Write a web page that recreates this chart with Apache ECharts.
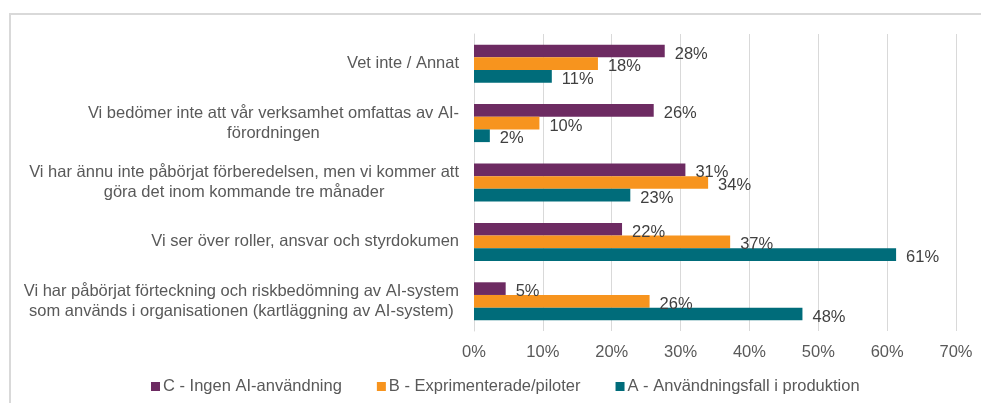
<!DOCTYPE html>
<html lang="sv">
<head>
    <meta charset="UTF-8">
    <title>AI-förordningen</title>
    <script src="https://cdn.jsdelivr.net/npm/echarts@6/dist/echarts.min.js"></script>
    <style>
        html, body { margin: 0; padding: 0; background: #fff; }
        #chart { width: 981px; height: 403px; }
    </style>
</head>
<body>
    <div id="chart"></div>
    <script>
        // categories listed bottom -> top (category axis starts at the bottom)
        var categories = [
            'Vi har påbörjat förteckning och riskbedömning av AI-system\nsom används i organisationen (kartläggning av AI-system)',
            'Vi ser över roller, ansvar och styrdokumen',
            'Vi har ännu inte påbörjat förberedelsen, men vi kommer att\ngöra det inom kommande tre månader',
            'Vi bedömer inte att vår verksamhet omfattas av AI-\nförordningen',
            'Vet inte / Annat'
        ];
        var seriesNames = ['C - Ingen AI-användning', 'B - Exprimenterade/piloter', 'A - Användningsfall i produktion'];
        var valuesC = [4.6, 21.5, 30.7, 26.1, 27.7];
        var valuesB = [25.5, 37.2, 34.0, 9.5, 18.0];
        var valuesA = [47.7, 61.3, 22.7, 2.3, 11.3];
        var colors = ['#6D2B62', '#F7941E', '#006C7A'];
        var xTicks = [0, 10, 20, 30, 40, 50, 60, 70];

        var FONT = 'Liberation Sans, Arial, sans-serif';
        var FS = 16.5;

        var chart = echarts.init(document.getElementById('chart'));

        function makeSeries(i, data) {
            return {
                name: seriesNames[i],
                type: 'bar',
                data: data,
                barGap: '0%',
                barCategoryGap: '36%',
                itemStyle: { color: colors[i] },
                label: {
                    show: true,
                    position: 'right',
                    distance: 10,
                    offset: [0, 3],
                    color: '#404040',
                    fontFamily: FONT,
                    fontSize: FS,
                    formatter: function (p) { return Math.round(p.value) + '%'; }
                }
            };
        }

        chart.setOption({
            animation: false,
            textStyle: { fontFamily: FONT },
            graphic: [{
                type: 'rect',
                shape: { x: 10, y: 14, width: 1000, height: 420 },
                style: { fill: 'none', stroke: '#D9D9D9', lineWidth: 2 },
                silent: true,
                z: -1
            }],
            grid: {
                left: 474,
                right: 25,
                top: 34,
                bottom: 72,
                outerBoundsMode: 'none'
            },
            legend: {
                left: 146,
                top: 373,
                itemWidth: 9,
                itemHeight: 9,
                itemGap: 35,
                icon: 'rect',
                data: seriesNames,
                textStyle: { color: '#595959', fontSize: FS, padding: [0, 0, 0, -2] }
            },
            xAxis: {
                type: 'value',
                min: xTicks[0],
                max: xTicks[xTicks.length - 1],
                interval: 10,
                axisLine: { show: false },
                axisTick: { show: false },
                splitLine: { lineStyle: { color: '#D9D9D9', width: 1 } },
                axisLabel: {
                    color: '#595959',
                    fontSize: FS,
                    margin: 13,
                    formatter: '{value}%'
                }
            },
            yAxis: {
                type: 'category',
                data: categories,
                axisLine: { show: true, lineStyle: { color: '#D9D9D9' } },
                axisTick: { show: false },
                axisLabel: {
                    margin: 15,
                    formatter: function (v) {
                        return v.split('\n').map(function (s) { return '{c|' + s + '}'; }).join('\n');
                    },
                    rich: {
                        c: { align: 'center', color: '#595959', fontSize: FS, lineHeight: 20 }
                    }
                }
            },
            series: [
                makeSeries(0, valuesC),
                makeSeries(1, valuesB),
                makeSeries(2, valuesA)
            ]
        });
    </script>
</body>
</html>
